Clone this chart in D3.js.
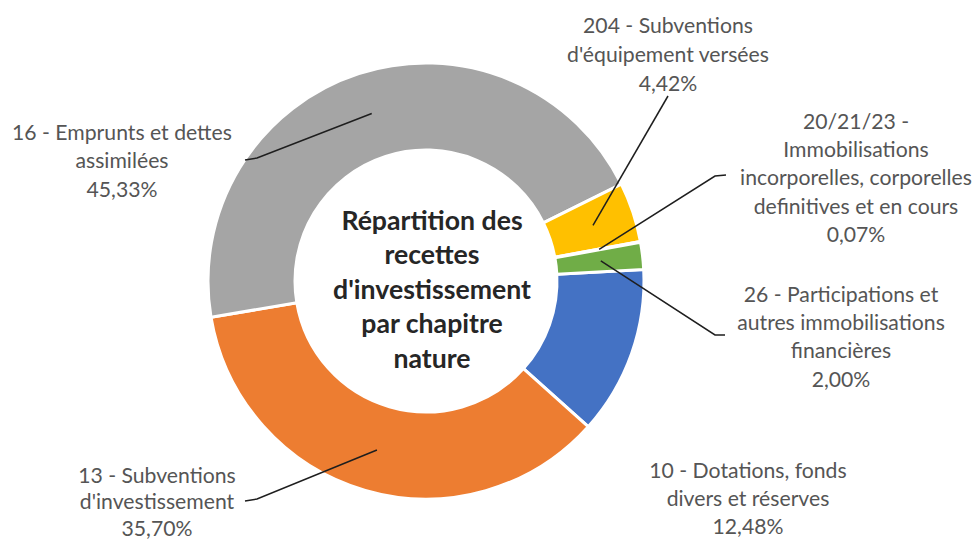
<!DOCTYPE html>
<html>
<head>
<meta charset="utf-8">
<script src="https://cdn.jsdelivr.net/npm/d3@7"></script>
<style>
  html, body { margin: 0; padding: 0; background: #ffffff; }
  svg { display: block; }
</style>
</head>
<body>
<div id="chart"></div>
<script>
// ----------------------------------------------
// Data
// ----------------------------------------------
var codes = ["10", "13", "16", "204", "20/21/23", "26"];
var labelLines = [
    ["10 - Dotations, fonds", "divers et réserves"],
    ["13 - Subventions", "d'investissement"],
    ["16 - Emprunts et dettes", "assimilées"],
    ["204 - Subventions", "d'équipement versées"],
    ["20/21/23 -", "Immobilisations", "incorporelles, corporelles", "definitives et en cours"],
    ["26 - Participations et", "autres immobilisations", "financières"]
];
var shares = [12.48, 35.70, 45.33, 4.42, 0.07, 2.00];
var colors = ["#4472C4", "#ED7D31", "#A5A5A5", "#FFC000", "#5B9BD5", "#70AD47"];
var titleLines = ["Répartition des", "recettes", "d'investissement", "par chapitre", "nature"];

// ----------------------------------------------
// Layout
// ----------------------------------------------
var svgWidth = 978;
var svgHeight = 541;
var cx = 426, cy = 281;
var outerR = 218, innerR = 131;

// label centres (first line), line gap and leader elbows, per slice
var labelLayout = [
    { x: 748, y: 470, gap: 28, elbow: null },
    { x: 157, y: 475, gap: 26.5, elbow: [[257, 499], [245, 501]] },
    { x: 122, y: 132, gap: 28.5, elbow: [[257, 158], [245, 160]] },
    { x: 668, y: 25, gap: 29, elbow: [[668, 96]] },
    { x: 856, y: 121, gap: 28.3, elbow: [[715, 176], [726, 175]] },
    { x: 841, y: 294, gap: 28.3, elbow: [[715, 335], [725, 335]] }
];

var svg = d3.select("#chart")
    .append("svg")
    .attr("width", svgWidth)
    .attr("height", svgHeight);

svg.append("rect")
    .attr("width", svgWidth)
    .attr("height", svgHeight)
    .attr("fill", "#ffffff");

// fit font size so a sample line gets a given width
function fitSize(sample, weight, target, family) {
    var t = svg.append("text")
        .style("font-family", family)
        .style("font-weight", weight)
        .style("font-size", "20px")
        .text(sample);
    var w = t.node().getComputedTextLength();
    t.remove();
    return 20 * target / w;
}

var fontFamily = "Lato, 'Noto Sans', sans-serif";
var labelSize = fitSize("16 - Emprunts et dettes", 400, 220, fontFamily);
var titleSize = fitSize("d'investissement", 700, 198, fontFamily);

// ----------------------------------------------
// Donut
// ----------------------------------------------
var startA = 87 * Math.PI / 180;
var pie = d3.pie()
    .sort(null)
    .value(d => d)
    .startAngle(startA)
    .endAngle(startA + 2 * Math.PI);

var arcs = pie(shares);

var arc = d3.arc()
    .innerRadius(innerR)
    .outerRadius(outerR);

var anchorArc = d3.arc()
    .innerRadius(176)
    .outerRadius(176);

var chartGroup = svg.append("g")
    .attr("transform", `translate(${cx}, ${cy})`);

chartGroup.selectAll(".slice")
    .data(arcs)
    .enter()
    .append("path")
    .classed("slice", true)
    .attr("d", arc)
    .attr("fill", (d, i) => colors[i])
    .attr("stroke", "#ffffff")
    .attr("stroke-width", 3)
    .attr("stroke-linejoin", "round");

// leader lines
var line = d3.line();
svg.selectAll(".leader")
    .data(arcs.filter((d, i) => labelLayout[i].elbow))
    .enter()
    .append("path")
    .classed("leader", true)
    .attr("d", d => {
        var c = anchorArc.centroid(d);
        var pts = [[cx + c[0], cy + c[1]]].concat(labelLayout[d.index].elbow);
        return line(pts);
    })
    .attr("fill", "none")
    .attr("stroke", "#1e1e1e")
    .attr("stroke-width", 1.5);

// data labels
var pct = d3.format(".2f");
var labels = svg.selectAll(".dlabel")
    .data(arcs)
    .enter()
    .append("text")
    .classed("dlabel", true)
    .attr("text-anchor", "middle")
    .style("font-family", fontFamily)
    .style("font-size", labelSize + "px")
    .attr("fill", "#555555");

labels.each(function (d, i) {
    var lay = labelLayout[i];
    var lines = labelLines[i].concat([pct(d.data).replace(".", ",") + "%"]);
    d3.select(this).selectAll("tspan")
        .data(lines)
        .enter()
        .append("tspan")
        .attr("x", lay.x)
        .attr("y", (t, k) => lay.y + k * lay.gap)
        .attr("dy", "0.36em")
        .text(t => t);
});

// centre title
svg.append("text")
    .attr("text-anchor", "middle")
    .style("font-family", fontFamily)
    .style("font-weight", 700)
    .style("font-size", titleSize + "px")
    .attr("fill", "#262626")
    .selectAll("tspan")
    .data(titleLines)
    .enter()
    .append("tspan")
    .attr("x", 432)
    .attr("y", (t, k) => 220 + k * 34.5)
    .attr("dy", "0.36em")
    .text(t => t);
</script>
</body>
</html>
